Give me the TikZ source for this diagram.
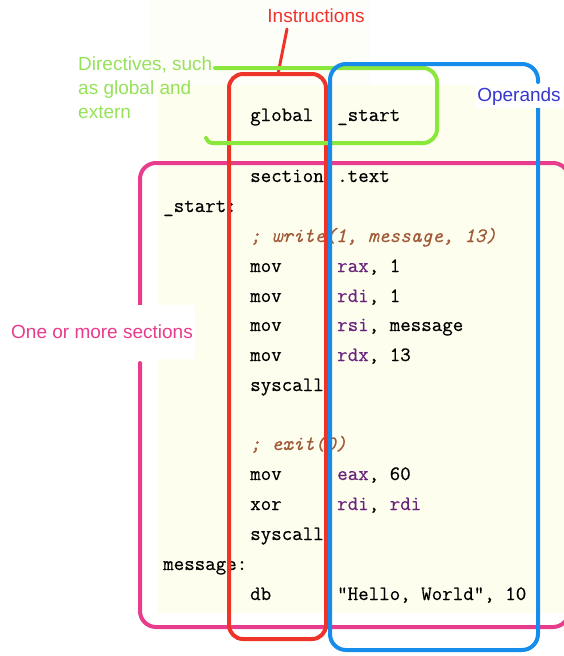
\documentclass[tikz,border=0pt]{standalone}
\usepackage{fontspec}
\newfontfamily\labelfont{Liberation Sans}
\newfontfamily\codefont{Latin Modern Mono}[FakeBold=0.5]
\newfontfamily\codeitfont{Latin Modern Mono}[FakeBold=0.5]
\definecolor{cream}{RGB}{254,254,238}
\definecolor{instrred}{RGB}{238,52,40}
\definecolor{dirgreen}{RGB}{138,232,60}
\definecolor{dirtext}{RGB}{150,225,90}
\definecolor{opblue}{RGB}{22,140,236}
\definecolor{optext}{RGB}{55,55,205}
\definecolor{secpink}{RGB}{232,60,140}
\definecolor{regpurple}{RGB}{105,35,125}
\definecolor{combrown}{RGB}{160,90,55}
\tikzset{
  code/.style={anchor=base west, inner sep=0pt, font=\codefont\fontsize{20.4}{24}\selectfont},
  cmt/.style={text=combrown, font=\codeitfont\itshape\fontsize{20.4}{24}\selectfont},
  lbl/.style={inner sep=2pt, fill=white, font=\labelfont\fontsize{19}{24}\selectfont},
  frame/.style={line width=4pt, line cap=round}
}
\begin{document}
\begin{tikzpicture}[x=1pt,y=-1pt]
\useasboundingbox (0,0) rectangle (564,656);
% code panel
\fill[cream] (158,85) rectangle (564,613);
\fill[cream!40] (150,0) rectangle (370,85);
% code
\node[code] (c1a) at (250,121) {global};
\node[code] (c1b) at (337,121) {\_start};
\node[code] (c2a) at (250,182) {section};
\node[code] (c2b) at (337,182) {.text};
\node[code] (c3) at (163,212) {\_start:};
\node[code,cmt] (c4) at (250,242) {; write(1, message, 13)};
\node[code] (c5a) at (250,272) {mov};
\node[code] (c5b) at (337,272) {\textcolor{regpurple}{rax}, 1};
\node[code] (c6a) at (250,302) {mov};
\node[code] (c6b) at (337,302) {\textcolor{regpurple}{rdi}, 1};
\node[code] (c7a) at (250,331) {mov};
\node[code] (c7b) at (337,331) {\textcolor{regpurple}{rsi}, message};
\node[code] (c8a) at (250,361) {mov};
\node[code] (c8b) at (337,361) {\textcolor{regpurple}{rdx}, 13};
\node[code] (c9) at (250,391) {syscall};
\node[code,cmt] (c10) at (250,450) {; exit(0)};
\node[code] (c11a) at (250,480) {mov};
\node[code] (c11b) at (337,480) {\textcolor{regpurple}{eax}, 60};
\node[code] (c12a) at (250,510) {xor};
\node[code] (c12b) at (337,510) {\textcolor{regpurple}{rdi}, \textcolor{regpurple}{rdi}};
\node[code] (c13) at (250,540) {syscall};
\node[code] (c14) at (163,570) {message:};
\node[code] (c15a) at (250,600) {db};
\node[code] (c15b) at (337,600) {"Hello, World", 10};
% sections (pink)
\draw[frame, secpink, rounded corners=16] (140,363) -- (140,627) -- (569,627) -- (569,163) -- (140,163) -- (140,308);
\node[lbl, text=secpink, minimum height=54pt] (secl) at (102,332) {One or more sections};
% instructions (red)
\draw[frame, instrred, rounded corners=14] (229,74) rectangle (326,639);
\node[lbl, text=instrred] (instr) at (316,16) {Instructions};
\coordinate (instrfoot) at (287,29);
\coordinate (redtop) at (278,74);
\draw[frame, instrred, line width=3pt] (instrfoot) -- (redtop);
% directives (green)
\draw[frame, dirgreen, rounded corners=14] (215,68) -- (437,68) -- (437,143) -- (213,143);
\draw[frame, dirgreen] (213,143) .. controls (209,143) and (207,141) .. (206,138);
\node[lbl, text=dirtext, align=left, anchor=north west, fill=none, inner sep=0pt] (dirl) at (78,57) {Directives, such\\as global and\\extern};
% operands (blue)
\draw[frame, opblue, rounded corners=16] (538,107) -- (538,650) -- (330,650) -- (330,64) -- (538,64) -- (538,82);
\node[lbl, text=optext] (opl) at (519,97) {Operands};
\end{tikzpicture}
\end{document}
